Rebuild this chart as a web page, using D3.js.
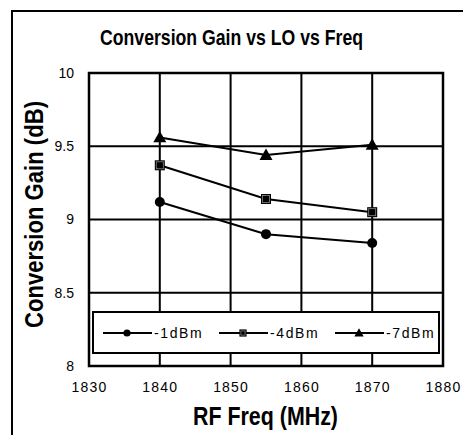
<!DOCTYPE html>
<html>
<head>
<meta charset="utf-8">
<script src="https://cdn.jsdelivr.net/npm/d3@7"></script>
<style>
  html, body { margin: 0; padding: 0; background: #fff; overflow: hidden; }
  svg { display: block; }
</style>
</head>
<body>
<svg id="chart" width="463" height="435"></svg>
<script>
// ---- data ----
const freqs = [1840, 1855, 1870];
const seriesNames = ["-1dBm", "-4dBm", "-7dBm"];
const gain1 = [9.12, 8.90, 8.84];
const gain4 = [9.37, 9.14, 9.05];
const gain7 = [9.56, 9.44, 9.51];
const xTicks = [1830, 1840, 1850, 1860, 1870, 1880];
const yTicks = [8, 8.5, 9, 9.5, 10];
const chartTitle = "Conversion Gain vs LO vs Freq";
const xTitle = "RF Freq (MHz)";
const yTitle = "Conversion Gain (dB)";

const series = [
  { name: seriesNames[0], values: gain1, marker: "circle" },
  { name: seriesNames[1], values: gain4, marker: "square" },
  { name: seriesNames[2], values: gain7, marker: "triangle" }
];

const svg = d3.select("#chart");
const x = d3.scaleLinear().domain([1830, 1880]).range([89, 443]);
const y = d3.scaleLinear().domain([8, 10]).range([366, 73]);

// outer frame (left and top edges visible only)
svg.append("line").attr("x1", 12).attr("x2", 12).attr("y1", 10).attr("y2", 435)
  .attr("stroke", "#000").attr("stroke-width", 2);
svg.append("line").attr("x1", 11).attr("x2", 463).attr("y1", 11).attr("y2", 11)
  .attr("stroke", "#000").attr("stroke-width", 2);

// title
svg.append("text").attr("x", 231.5).attr("y", 45).attr("text-anchor", "middle")
  .attr("font-family", "'Liberation Sans Narrow','Arial Narrow','Liberation Sans',Arial,sans-serif")
  .attr("font-weight", "bold").attr("font-size", 22)
  .attr("textLength", 263).attr("lengthAdjust", "spacingAndGlyphs")
  .text(chartTitle);

// grid
const g = svg.append("g");
g.selectAll("line.v").data(xTicks).enter().append("line")
  .attr("x1", d => x(d)).attr("x2", d => x(d))
  .attr("y1", y(10)).attr("y2", y(8))
  .attr("stroke", "#000").attr("stroke-width", 2);
g.selectAll("line.h").data(yTicks).enter().append("line")
  .attr("x1", x(1830)).attr("x2", x(1880))
  .attr("y1", d => y(d)).attr("y2", d => y(d))
  .attr("stroke", "#000").attr("stroke-width", 2);
g.append("rect").attr("x", x(1830)).attr("y", y(10))
  .attr("width", x(1880) - x(1830)).attr("height", y(8) - y(10))
  .attr("fill", "none").attr("stroke", "#000").attr("stroke-width", 2.5);

// axes labels via d3 axes (no tick lines)
const xAxis = svg.append("g").attr("transform", `translate(0,${y(8)})`)
  .call(d3.axisBottom(x).tickValues(xTicks).tickFormat(d3.format("d")).tickSize(0).tickPadding(16));
xAxis.select(".domain").remove();
xAxis.selectAll("text").attr("font-family", "'Liberation Sans',Arial,sans-serif")
  .attr("font-size", 14).attr("letter-spacing", "1.2px").attr("fill", "#000");

const yAxis = svg.append("g").attr("transform", `translate(${x(1830)},0)`)
  .call(d3.axisLeft(y).tickValues(yTicks).tickFormat(d => String(d)).tickSize(0).tickPadding(15));
yAxis.select(".domain").remove();
yAxis.selectAll("text").attr("font-family", "'Liberation Sans',Arial,sans-serif")
  .attr("font-size", 14).attr("fill", "#000");

// axis titles
svg.append("text").attr("x", 265.5).attr("y", 425).attr("text-anchor", "middle")
  .attr("font-family", "'Liberation Sans Narrow','Arial Narrow','Liberation Sans',Arial,sans-serif")
  .attr("font-weight", "bold").attr("font-size", 25)
  .attr("textLength", 145).attr("lengthAdjust", "spacingAndGlyphs")
  .text(xTitle);
svg.append("text").attr("transform", "translate(43,214.5) rotate(-90)").attr("text-anchor", "middle")
  .attr("font-family", "'Liberation Sans Narrow','Arial Narrow','Liberation Sans',Arial,sans-serif")
  .attr("font-weight", "bold").attr("font-size", 25)
  .attr("textLength", 227).attr("lengthAdjust", "spacingAndGlyphs")
  .text(yTitle);

// markers
function drawMarker(sel, type, cx, cy, s) {
  if (type === "circle") {
    sel.append("circle").attr("cx", cx).attr("cy", cy).attr("r", 5 * s).attr("fill", "#000");
  } else if (type === "square") {
    const h = 5 * s;
    sel.append("rect").attr("x", cx - h).attr("y", cy - h).attr("width", 2 * h).attr("height", 2 * h)
      .attr("fill", "#000");
    sel.append("rect").attr("x", cx - h + 1.5).attr("y", cy - h + 1.5)
      .attr("width", 2 * h - 3).attr("height", 2 * h - 3)
      .attr("fill", "none").attr("stroke", "#888").attr("stroke-width", 0.8);
  } else {
    const h = 6.5 * s;
    sel.append("path")
      .attr("d", `M${cx},${cy - h}L${cx + h},${cy + h * 0.75}L${cx - h},${cy + h * 0.75}Z`)
      .attr("fill", "#000");
  }
}

const line = d3.line().x((d, i) => x(freqs[i])).y(d => y(d));
series.forEach(s => {
  svg.append("path").attr("d", line(s.values)).attr("fill", "none")
    .attr("stroke", "#000").attr("stroke-width", 2);
  const mg = svg.append("g");
  s.values.forEach((v, i) => drawMarker(mg, s.marker, x(freqs[i]), y(v), 1));
});

// legend
const leg = svg.append("g");
leg.append("rect").attr("x", 93).attr("y", 312).attr("width", 346).attr("height", 41)
  .attr("fill", "#fff").attr("stroke", "#000").attr("stroke-width", 2);
series.forEach((s, i) => {
  const x0 = 103 + i * 116;
  const cy = 333;
  leg.append("line").attr("x1", x0).attr("x2", x0 + 49).attr("y1", cy).attr("y2", cy)
    .attr("stroke", "#000").attr("stroke-width", 2);
  drawMarker(leg, s.marker, x0 + 24, cy, 0.72);
  leg.append("text").attr("x", x0 + 51).attr("y", cy).attr("dy", "0.36em")
    .attr("font-family", "'Liberation Sans',Arial,sans-serif").attr("font-size", 14)
    .attr("letter-spacing", "1.6px").attr("fill", "#000")
    .text(s.name);
});
</script>
</body>
</html>
